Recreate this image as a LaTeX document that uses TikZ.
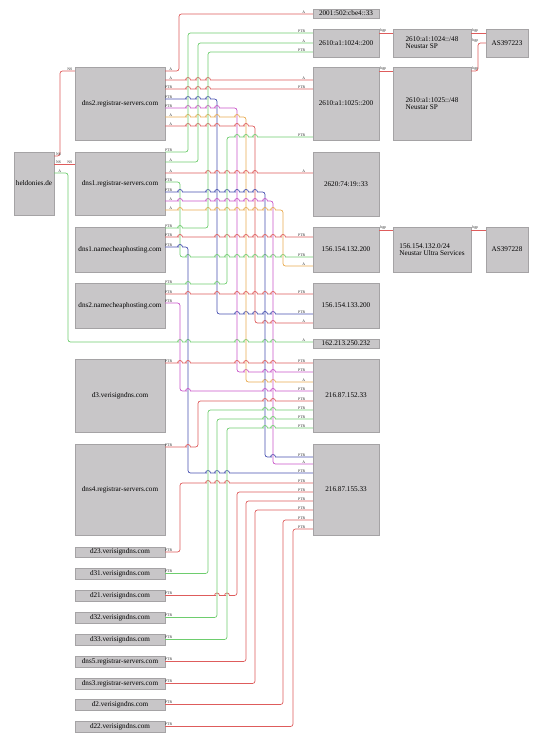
\documentclass[tikz,border=0pt]{standalone}
\usepackage{fontspec}
\setmainfont{Liberation Serif}
\usetikzlibrary{shadows}

\definecolor{boxfill}{RGB}{200,198,200}
\definecolor{boxline}{RGB}{165,163,165}
\definecolor{ered}{RGB}{222,92,92}
\definecolor{egreen}{RGB}{110,205,110}
\definecolor{eblue}{RGB}{70,80,175}
\definecolor{emag}{RGB}{200,85,200}
\definecolor{eorange}{RGB}{232,170,80}

% little jumps where a horizontal run passes over a vertical one
\newcommand\hopsat[2]{\foreach \hx in {#1}{ -- (\hx-3.5,#2) [sharp corners] -- (\hx-2.5,#2)
    arc[start angle=180,end angle=360,radius=2.5] [rounded corners=2.5pt]}}

\begin{document}
\begin{tikzpicture}[x=1pt, y=-1pt,
    gbox/.style={draw=boxline, line width=0.4pt, fill=boxfill, inner sep=1pt,
                 align=center, font=\fontsize{7.2}{7}\selectfont,
                 drop shadow={shadow xshift=0.9pt, shadow yshift=-0.9pt, opacity=0.3}},
    sbox/.style={gbox, minimum width=90pt, minimum height=10.5pt},
    conn/.style={line width=0.7pt, rounded corners=2.5pt},
    lbl/.style={font=\fontsize{3.8}{4}\selectfont, inner sep=0.3pt, text=black!85},
    tl/.style={lbl, anchor=south east, xshift=7.5pt},
    hl/.style={lbl, anchor=south east, xshift=-7pt},
    nsl/.style={lbl, anchor=south east, xshift=-1.8pt}
]
\useasboundingbox (0,0) rectangle (542,741);

% left column
\node[gbox, minimum width=40pt, minimum height=63pt] (held) at (34,183.5) {heldonies.de};
\node[gbox, minimum width=90pt, minimum height=73pt] (rsb) at (120,103.5) {dns2.registrar-servers.com};
\node[gbox, minimum width=90pt, minimum height=63pt] (rsa) at (120,183.5) {dns1.registrar-servers.com};
\node[gbox, minimum width=90pt, minimum height=45pt] (nca) at (120,249.5) {dns1.namecheaphosting.com};
\node[gbox, minimum width=90pt, minimum height=45pt] (ncb) at (120,305.5) {dns2.namecheaphosting.com};
\node[gbox, minimum width=90pt, minimum height=73pt] (d3) at (120,395.5) {d3.verisigndns.com};
\node[gbox, minimum width=90pt, minimum height=91pt] (rsd) at (120,489.5) {dns4.registrar-servers.com};
\foreach \nm/\yy/\txt in {d23/552/d23.verisigndns.com, d31/573.5/d31.verisigndns.com,
    d21/595.5/d21.verisigndns.com, d32/617.5/d32.verisigndns.com,
    d33/639.5/d33.verisigndns.com, dns5/661.5/dns5.registrar-servers.com,
    dns3/683.5/dns3.registrar-servers.com, d2/704.5/d2.verisigndns.com,
    d22/726.5/d22.verisigndns.com}
    \node[sbox] (\nm) at (120,\yy) {\txt};

% addresses
\node[gbox, minimum width=66pt, minimum height=9pt] (ip2001) at (346,13.5) {2001:502:cbe4::33};
\node[gbox, minimum width=66pt, minimum height=28pt] (ip1024) at (346,43) {2610:a1:1024::200};
\node[gbox, minimum width=66pt, minimum height=73pt] (ip1025) at (346,103.5) {2610:a1:1025::200};
\node[gbox, minimum width=66pt, minimum height=64pt] (ip2620) at (346,184) {2620:74:19::33};
\node[gbox, minimum width=66pt, minimum height=45pt] (ip132) at (346,249.5) {156.154.132.200};
\node[gbox, minimum width=66pt, minimum height=45pt] (ip133) at (346,305.5) {156.154.133.200};
\node[gbox, minimum width=66pt, minimum height=9pt] (ip162) at (346,343.5) {162.213.250.232};
\node[gbox, minimum width=66pt, minimum height=73pt] (ip152) at (346,395.5) {216.87.152.33};
\node[gbox, minimum width=66pt, minimum height=91pt] (ip155) at (346,489.5) {216.87.155.33};

% prefixes and AS
\node[gbox, align=left, minimum width=78pt, minimum height=28pt] (net1024) at (432,43) {2610:a1:1024::/48\\Neustar SP};
\node[gbox, align=left, minimum width=78pt, minimum height=73pt] (net1025) at (432,103.5) {2610:a1:1025::/48\\Neustar SP};
\node[gbox, align=left, minimum width=78pt, minimum height=45pt] (net132) at (432,249.5) {156.154.132.0/24\\Neustar Ultra Services};
\node[gbox, minimum width=42pt, minimum height=28pt] (as223) at (507,43) {AS397223};
\node[gbox, minimum width=42pt, minimum height=45pt] (as228) at (507,249.5) {AS397228};

% heldonies.de
\draw[conn, ered] (held.east|-0,156) node[tl]{NS} -- (60,156) -- (60,71) -- (rsb.west|-0,71) node[nsl]{NS};
\draw[conn, ered] (held.east|-0,164) node[tl]{NS} -- (rsa.west|-0,164) node[nsl]{NS};
\draw[conn, egreen] (held.east|-0,173) node[tl]{A} -| (68,342) \hopsat{180,188,237,246,265,273}{342} -- (ip162.west|-0,342) node[hl]{A};

% dns2.registrar-servers.com
\draw[conn, ered] (rsb.east|-0,71) node[tl]{A} -| (179,14) -- (ip2001.west|-0,14) node[hl]{A};
\draw[conn, ered] (rsb.east|-0,80) node[tl]{A} \hopsat{188,198,208}{80} -- (ip1025.west|-0,80) node[hl]{A};
\draw[conn, ered] (rsb.east|-0,89) node[tl]{PTR} \hopsat{188,198,208}{89} -- (ip1025.west|-0,89) node[hl]{PTR};
\draw[conn, eblue] (rsb.east|-0,99) node[tl]{PTR} \hopsat{188,198,208}{99} -- (217,99) -- (217,314) \hopsat{237,246,255,265,273}{314} -- (ip133.west|-0,314) node[hl]{PTR};
\draw[conn, emag] (rsb.east|-0,108) node[tl]{PTR} \hopsat{188,198,208,217}{108} -- (237,108) -- (237,372) \hopsat{246,265,273}{372} -- (ip152.west|-0,372) node[hl]{PTR};
\draw[conn, eorange] (rsb.east|-0,117) node[tl]{A} \hopsat{188,198,208,217,237}{117} -- (246,117) -- (246,382) \hopsat{265,273}{382} -- (ip152.west|-0,382) node[hl]{A};
\draw[conn, ered] (rsb.east|-0,126) node[tl]{A} \hopsat{188,198,208,217,237,246}{126} -- (255,126) -- (255,323) \hopsat{265,273}{323} -- (ip133.west|-0,323) node[hl]{A};

% dns1.registrar-servers.com
\draw[conn, egreen] (rsa.east|-0,152) node[tl]{PTR} -| (188,33) -- (ip1024.west|-0,33) node[hl]{PTR};
\draw[conn, egreen] (rsa.east|-0,162) node[tl]{A} -| (198,43) -- (ip1024.west|-0,43) node[hl]{A};
\draw[conn, ered] (rsa.east|-0,173) node[tl]{A} \hopsat{208,217,227,237,246,255}{173} -- (ip2620.west|-0,173) node[hl]{A};
\draw[conn, egreen] (rsa.east|-0,182) node[tl]{PTR} -| (180,257) \hopsat{188,217,227,237,246,255,265,273,283}{257} -- (ip132.west|-0,257) node[hl]{PTR};
\draw[conn, eblue] (rsa.east|-0,192) node[tl]{PTR} \hopsat{180,208,217,227,237,246,255}{192} -- (265,192) -- (265,457) \hopsat{273}{457} -- (ip155.west|-0,457) node[hl]{PTR};
\draw[conn, emag] (rsa.east|-0,201) node[tl]{A} \hopsat{180,208,217,227,237,246,255,265}{201} -- (273,201) -- (273,464) -- (ip155.west|-0,464) node[hl]{A};
\draw[conn, eorange] (rsa.east|-0,210) node[tl]{A} \hopsat{180,208,217,227,237,246,255,265,273}{210} -- (283,210) -- (283,266) -- (ip132.west|-0,266) node[hl]{A};

% dns1.namecheaphosting.com
\draw[conn, egreen] (nca.east|-0,228) node[tl]{PTR} \hopsat{180}{228} -- (208,228) -- (208,52) -- (ip1024.west|-0,52) node[hl]{PTR};
\draw[conn, ered] (nca.east|-0,237) node[tl]{PTR} \hopsat{180,217,227,237,246,255,265,273,283}{237} -- (ip132.west|-0,237) node[hl]{PTR};
\draw[conn, eblue] (nca.east|-0,247) node[tl]{PTR} \hopsat{180}{247} -- (188,247) -- (188,473) \hopsat{208,217,227}{473} -- (ip155.west|-0,473) node[hl]{PTR};

% dns2.namecheaphosting.com
\draw[conn, egreen] (ncb.east|-0,284) node[tl]{PTR} \hopsat{188,217}{284} -- (227,284) -- (227,137) \hopsat{237,246,255}{137} -- (ip1025.west|-0,137) node[hl]{PTR};
\draw[conn, ered] (ncb.east|-0,294) node[tl]{PTR} \hopsat{188,217,237,246,255,265,273}{294} -- (ip133.west|-0,294) node[hl]{PTR};
\draw[conn, emag] (ncb.east|-0,303) node[tl]{PTR} -| (180,391) \hopsat{188,265,273}{391} -- (ip152.west|-0,391) node[hl]{PTR};

% d3 and dns4
\draw[conn, ered] (d3.east|-0,363) node[tl]{PTR} \hopsat{180,188,237,246,265,273}{363} -- (ip152.west|-0,363) node[hl]{PTR};
\draw[conn, ered] (rsd.east|-0,447) node[tl]{PTR} \hopsat{188}{447} -- (198,447) -- (198,401) \hopsat{265,273}{401} -- (ip152.west|-0,401) node[hl]{PTR};

% small name servers
\draw[conn, ered] (d23.east) node[tl]{PTR} -| (180,483) \hopsat{208,217,227}{483} -- (ip155.west|-0,483) node[hl]{PTR};
\draw[conn, egreen] (d31.east) node[tl]{PTR} -| (208,410) \hopsat{265,273}{410} -- (ip152.west|-0,410) node[hl]{PTR};
\draw[conn, ered] (d21.east) node[tl]{PTR} \hopsat{217,227}{595.5} -- (237,595.5) -- (237,492) -- (ip155.west|-0,492) node[hl]{PTR};
\draw[conn, egreen] (d32.east) node[tl]{PTR} -| (217,419) \hopsat{265,273}{419} -- (ip152.west|-0,419) node[hl]{PTR};
\draw[conn, egreen] (d33.east) node[tl]{PTR} -| (227,428) \hopsat{265,273}{428} -- (ip152.west|-0,428) node[hl]{PTR};
\draw[conn, ered] (dns5.east) node[tl]{PTR} -| (246,501) -- (ip155.west|-0,501) node[hl]{PTR};
\draw[conn, ered] (dns3.east) node[tl]{PTR} -| (255,510) -- (ip155.west|-0,510) node[hl]{PTR};
\draw[conn, ered] (d2.east) node[tl]{PTR} -| (283,520) -- (ip155.west|-0,520) node[hl]{PTR};
\draw[conn, ered] (d22.east) node[tl]{PTR} -| (293,529) -- (ip155.west|-0,529) node[hl]{PTR};

% bgp
\draw[conn, ered] (ip1024.east|-0,33) node[tl]{bgp} -- (net1024.west|-0,33);
\draw[conn, ered] (net1024.east|-0,33) node[tl]{bgp} -- (as223.west|-0,33);
\draw[conn, ered] (ip1025.east|-0,71) node[tl]{bgp} -- (net1025.west|-0,71);
\draw[conn, ered] (net1025.east|-0,71) node[tl]{bgp} -- (478,71) -- (478,43) -- (as223.west|-0,43) node[hl]{bgp};
\draw[conn, ered] (ip132.east|-0,230) node[tl]{bgp} -- (net132.west|-0,230);
\draw[conn, ered] (net132.east|-0,230) node[tl]{bgp} -- (as228.west|-0,230);
\end{tikzpicture}
\end{document}
